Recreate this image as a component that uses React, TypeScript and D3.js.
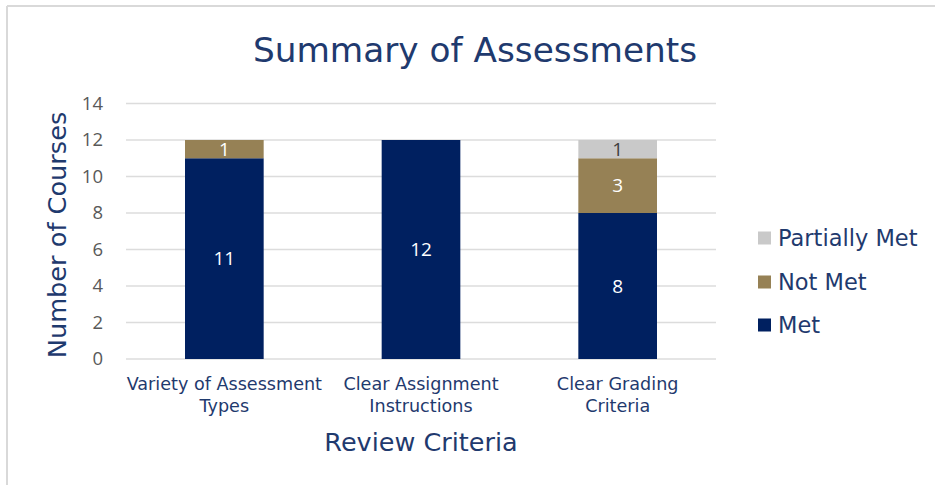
import React from "react";
import * as d3 from "d3";

const categories: string[][] = [
  ["Variety of Assessment", "Types"],
  ["Clear Assignment", "Instructions"],
  ["Clear Grading", "Criteria"],
];
const seriesNames = ["Met", "Not Met", "Partially Met"];
const metValues = [11, 12, 8];
const notMetValues = [1, 0, 3];
const partialValues = [0, 0, 1];
const seriesColors = ["#002060", "#968155", "#C9C9C9"];
const labelColors = ["#FFFFFF", "#FFFFFF", "#404040"];
const yTicks = [0, 2, 4, 6, 8, 10, 12, 14];

const W = 935;
const H = 485;
const plot = { left: 126, right: 716, top: 103.5, bottom: 359 };
const navy = "#1F3A6E";
const titleFont = "'DejaVu Sans', sans-serif";
const numFont = "'Open Sans', sans-serif";

export default function App() {
  const keys = categories.map((c) => c.join(" "));
  const x = d3
    .scaleBand<string>()
    .domain(keys)
    .range([plot.left, plot.right])
    .paddingInner(0.6)
    .paddingOuter(0.3);
  const y = d3.scaleLinear().domain([0, 14]).range([plot.bottom, plot.top]);

  const rows = keys.map((k, i) => ({
    key: k,
    Met: metValues[i],
    "Not Met": notMetValues[i],
    "Partially Met": partialValues[i],
  }));
  const stacked = d3.stack<any>().keys(seriesNames)(rows);

  const legendY = [325, 282, 238];

  return (
    <svg
      width={W}
      height={H}
      style={{ position: "absolute", left: 0, top: 0, background: "#fff" }}
    >
      <rect x={0} y={0} width={W} height={H} fill="#fff" />
      <line x1={7} y1={6} x2={W} y2={6} stroke="#D9D9D9" strokeWidth={2} />
      <line x1={7} y1={6} x2={7} y2={H} stroke="#D9D9D9" strokeWidth={2} />

      <text
        x={475}
        y={62}
        textAnchor="middle"
        fontFamily={titleFont}
        fontSize={34.3}
        fill={navy}
      >
        Summary of Assessments
      </text>

      {yTicks.map((t) => (
        <g key={t}>
          <line
            x1={plot.left}
            x2={plot.right}
            y1={y(t)}
            y2={y(t)}
            stroke="#DCDCDC"
            strokeWidth={1.5}
          />
          <text
            x={103}
            y={y(t)}
            dy="0.35em"
            textAnchor="end"
            fontFamily={numFont}
            fontSize={18.5}
            fill="#595959"
          >
            {t}
          </text>
        </g>
      ))}

      {stacked.map((s, si) =>
        s.map((d, i) => {
          const v = d[1] - d[0];
          if (v <= 0) return null;
          const bx = x(keys[i])!;
          const y0 = y(d[0]);
          const y1 = y(d[1]);
          return (
            <g key={si + "-" + i}>
              <rect
                x={bx}
                y={y1}
                width={x.bandwidth()}
                height={y0 - y1}
                fill={seriesColors[si]}
              />
              <text
                x={bx + x.bandwidth() / 2}
                y={(y0 + y1) / 2}
                dy="0.36em"
                textAnchor="middle"
                fontFamily={numFont}
                fontSize={19}
                fill={labelColors[si]}
              >
                {v}
              </text>
            </g>
          );
        })
      )}

      {categories.map((c, i) => (
        <text
          key={i}
          x={x(keys[i])! + x.bandwidth() / 2}
          textAnchor="middle"
          fontFamily={titleFont}
          fontSize={17.6}
          fill={navy}
        >
          {c.map((line, li) => (
            <tspan key={li} x={x(keys[i])! + x.bandwidth() / 2} y={390 + li * 22}>
              {line}
            </tspan>
          ))}
        </text>
      ))}

      <text
        x={421}
        y={451}
        textAnchor="middle"
        fontFamily={titleFont}
        fontSize={25.5}
        fill={navy}
      >
        Review Criteria
      </text>

      <text
        transform={`translate(66,235) rotate(-90)`}
        textAnchor="middle"
        fontFamily={titleFont}
        fontSize={25.6}
        fill={navy}
      >
        Number of Courses
      </text>

      {seriesNames.map((n, i) => (
        <g key={n}>
          <rect
            x={758}
            y={legendY[i] - 6.5}
            width={13}
            height={13}
            fill={seriesColors[i]}
          />
          <text
            x={778}
            y={legendY[i]}
            dy="0.35em"
            fontFamily={titleFont}
            fontSize={22.5}
            fill={navy}
          >
            {n}
          </text>
        </g>
      ))}
    </svg>
  );
}
